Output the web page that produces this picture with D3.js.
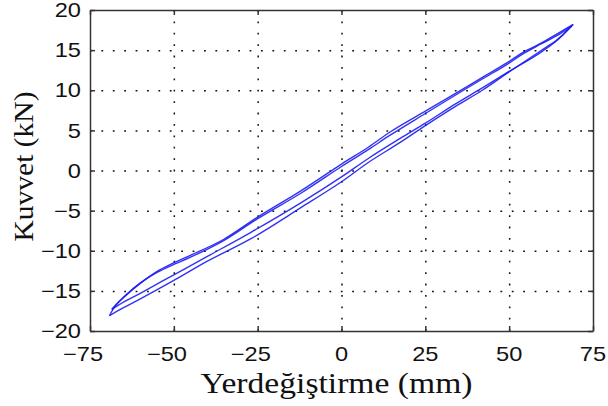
<!DOCTYPE html>
<html>
<head>
<meta charset="utf-8">
<script src="https://cdn.jsdelivr.net/npm/d3@7"></script>
<style>
  body { margin: 0; background: #fff; }
  svg { display: block; }
  .sans { font-family: "Liberation Sans", Arimo, Helvetica, Arial, sans-serif; }
  .serif { font-family: "Liberation Serif", Tinos, "Times New Roman", Times, serif; }
</style>
</head>
<body>
<main></main>
<script>
// Tick values
const xTicks = [-75, -50, -25, 0, 25, 50, 75];
const yTicks = [-20, -15, -10, -5, 0, 5, 10, 15, 20];

// Hysteresis branches: [displacement mm, force kN]
const loading1 = [
  [-69.2, -18.1], [-67.5, -16.9], [-64.1, -15.5], [-60.1, -14.1], [-55.1, -12.6],
  [-50.2, -11.55], [-45.2, -10.6], [-35.2, -8.6], [-25, -5.8], [-12, -2.5],
  [0, 0.8], [8, 2.9], [14.5, 4.8], [25, 7.4], [34.4, 9.7], [42, 11.6],
  [49.3, 13.4], [54, 14.7], [59.2, 15.8], [64.2, 17.0], [69.1, 18.2]
];
const unloading1 = [
  [69.1, 18.2], [66, 16.9], [64, 16.1], [59, 14.6], [49, 12.1], [42, 10.3],
  [34, 8.3], [25, 5.9], [17.5, 4.0], [8, 1.5], [0, -0.8], [-12, -4.0],
  [-27, -7.7], [-40, -10.7], [-50, -13.0], [-60, -15.3], [-65, -16.4], [-68.5, -17.3]
];
const loading2 = [
  [-68.5, -17.3], [-66.5, -16.4], [-64, -15.4], [-60, -14.0], [-55, -12.7],
  [-50, -11.7], [-45, -10.8], [-35, -8.7], [-25, -6.0], [-12, -2.8],
  [0, 0.5], [8, 2.6], [14.5, 4.4], [25, 7.1], [34.4, 9.5], [42, 11.4],
  [49.3, 13.2], [54, 14.5], [59.2, 15.7], [64.2, 16.8], [68.6, 18.0]
];
const unloading2 = [
  [68.6, 18.0], [66, 16.9], [64, 16.2], [59, 14.8], [49, 12.0], [42, 10.0],
  [34, 8.0], [25, 5.6], [17.5, 3.5], [8, 1.0], [0, -1.4], [-12, -4.6],
  [-27, -8.5], [-40, -11.3], [-50, -13.7], [-60, -16.0], [-65, -17.1], [-69.2, -18.1]
];
const branches = [loading1, unloading1, loading2, unloading2];

// Dimensions
const width = 608;
const height = 406;
const margin = { top: 10, right: 15, bottom: 75, left: 90 };
const innerW = width - margin.left - margin.right;
const innerH = height - margin.top - margin.bottom;

const svg = d3.select("main").append("svg")
  .attr("width", width)
  .attr("height", height);

const g = svg.append("g")
  .attr("transform", `translate(${margin.left}, ${margin.top})`);

const xScale = d3.scaleLinear().domain([-75, 75]).range([0, innerW]);
const yScale = d3.scaleLinear().domain([-20, 20]).range([innerH, 0]);

// Dotted grid
g.append("g")
  .attr("transform", `translate(0, ${innerH})`)
  .call(d3.axisBottom(xScale).tickValues(xTicks.slice(1, -1)).tickSize(-innerH).tickFormat(""))
  .call((s) => s.select(".domain").remove())
  .selectAll("line")
  .attr("stroke", "#111")
  .attr("stroke-width", 1.5)
  .attr("stroke-dasharray", "1.8,9.6");

g.append("g")
  .call(d3.axisLeft(yScale).tickValues(yTicks.slice(1, -1)).tickSize(-innerW).tickFormat(""))
  .call((s) => s.select(".domain").remove())
  .selectAll("line")
  .attr("stroke", "#111")
  .attr("stroke-width", 1.5)
  .attr("stroke-dasharray", "1.8,9.6");

// Curves
const line = d3.line()
  .x((d) => xScale(d[0]))
  .y((d) => yScale(d[1]))
  .curve(d3.curveCatmullRom.alpha(0.5));

g.selectAll(".branch")
  .data(branches)
  .enter()
  .append("path")
  .attr("class", "branch")
  .attr("d", line)
  .attr("fill", "none")
  .attr("stroke", "#1c1cf2")
  .attr("stroke-width", 1.4)
  .attr("stroke-opacity", 0.9);

// Frame with inward ticks on all four sides
const tickLen = 5;
const axisStyle = (s) => {
  s.selectAll("path, line").attr("stroke", "#333").attr("stroke-width", 1.5);
};
g.append("g").attr("transform", `translate(0, ${innerH})`)
  .call(d3.axisBottom(xScale).tickValues(xTicks).tickSizeInner(-tickLen).tickSizeOuter(0).tickFormat(""))
  .call(axisStyle);
g.append("g")
  .call(d3.axisTop(xScale).tickValues(xTicks).tickSizeInner(-tickLen).tickSizeOuter(0).tickFormat(""))
  .call(axisStyle);
g.append("g")
  .call(d3.axisLeft(yScale).tickValues(yTicks).tickSizeInner(-tickLen).tickSizeOuter(0).tickFormat(""))
  .call(axisStyle);
g.append("g").attr("transform", `translate(${innerW}, 0)`)
  .call(d3.axisRight(yScale).tickValues(yTicks).tickSizeInner(-tickLen).tickSizeOuter(0).tickFormat(""))
  .call(axisStyle);

// Tick labels (digits centred on tick, minus hanging left)
const fmt = (v) => (v < 0 ? "\u2212" : "") + Math.abs(v);
const stretch = 1.18;
const digitW = 11.12 * stretch;

g.selectAll(".xlab")
  .data(xTicks)
  .enter()
  .append("text")
  .attr("class", "xlab sans")
  .attr("transform", (d) => `translate(${xScale(d) + (String(Math.abs(d)).length * digitW) / 2}, ${innerH + 30}) scale(${stretch},1)`)
  .attr("text-anchor", "end")
  .style("font-size", "20px")
  .attr("fill", "#111")
  .text(fmt);

g.selectAll(".ylab")
  .data(yTicks)
  .enter()
  .append("text")
  .attr("class", "ylab sans")
  .attr("transform", (d) => `translate(-9, ${yScale(d)}) scale(${stretch},1)`)
  .attr("dy", "0.36em")
  .attr("text-anchor", "end")
  .style("font-size", "20px")
  .attr("fill", "#111")
  .text(fmt);

// Axis titles
svg.append("text")
  .attr("class", "serif")
  .attr("x", margin.left + innerW / 2 - 5)
  .attr("y", 393)
  .attr("text-anchor", "middle")
  .style("font-size", "30px")
  .attr("textLength", 272)
  .attr("lengthAdjust", "spacingAndGlyphs")
  .attr("fill", "#111")
  .text("Yerdeğiştirme (mm)");

svg.append("text")
  .attr("class", "serif")
  .attr("transform", `translate(33, ${margin.top + innerH / 2 - 4}) rotate(-90)`)
  .attr("text-anchor", "middle")
  .style("font-size", "28px")
  .attr("textLength", 150)
  .attr("lengthAdjust", "spacingAndGlyphs")
  .attr("fill", "#111")
  .text("Kuvvet (kN)");
</script>
</body>
</html>
